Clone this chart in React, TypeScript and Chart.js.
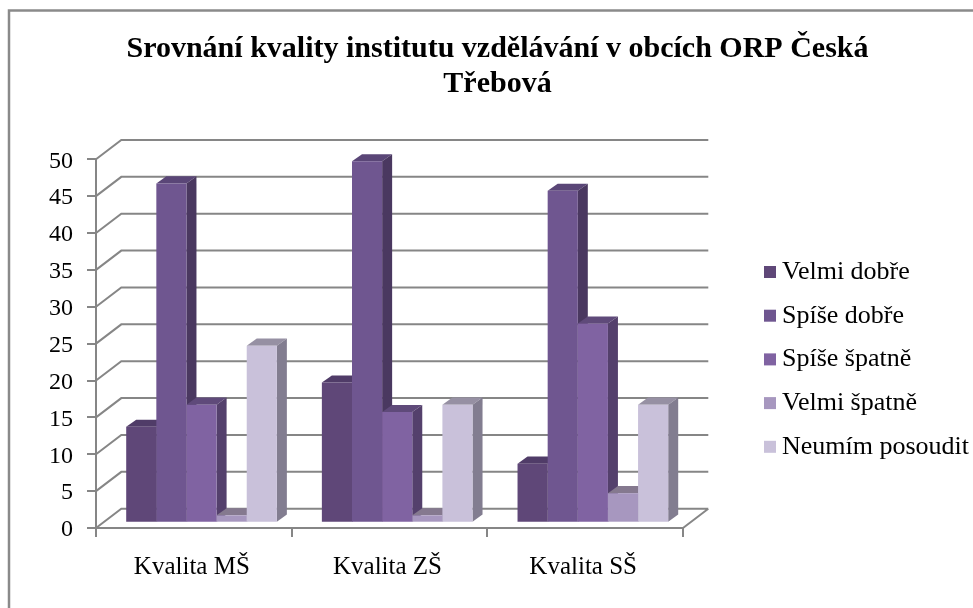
import React, { useEffect, useRef } from "react";
import { Chart, registerables } from "chart.js";

Chart.register(...registerables);

const titleLines = ["Srovnání kvality institutu vzdělávání v obcích ORP Česká", "Třebová"];
const categories = ["Kvalita MŠ", "Kvalita ZŠ", "Kvalita SŠ"];
const seriesNames = ["Velmi dobře", "Spíše dobře", "Spíše špatně", "Velmi špatně", "Neumím posoudit"];
const velmiDobre = [13, 19, 8];
const spiseDobre = [46, 49, 45];
const spiseSpatne = [16, 15, 27];
const velmiSpatne = [1, 1, 4];
const neumim = [24, 16, 16];
const frontColors = ["#5f4778", "#6f5690", "#8063a2", "#a797bf", "#c9c1da"];
const sideColors = ["#46345a", "#4a3860", "#54406c", "#7f7590", "#827d90"];
const topColors = ["#503c68", "#5a4677", "#5f4a7a", "#85798f", "#9690a3"];

const GRID = "#868686";
const WALL = { dx: 25.3, dy: 19.3 };
const BAR_OFFSET = { dx: 7.7, dy: 5.3 };
const BAR_DEPTH = { dx: 10, dy: 7.2 };
const LEGEND_FONT = 26;
const LEGEND_GAP = 17.7;
const LEGEND_BOX = 12;

const depth3d = {
  id: "depth3d",
  beforeDraw(chart: any) {
    const { ctx } = chart;
    ctx.save();
    ctx.strokeStyle = "#8a8a8a";
    ctx.lineWidth = 2.5;
    ctx.beginPath();
    ctx.moveTo(9, 608);
    ctx.lineTo(9, 10.5);
    ctx.lineTo(973, 10.5);
    ctx.stroke();
    ctx.restore();
  },
  beforeDatasetsDraw(chart: any) {
    const { ctx, scales, chartArea } = chart;
    const y = scales.y;
    ctx.save();
    ctx.strokeStyle = GRID;
    ctx.lineWidth = 2;
    ctx.beginPath();
    y.ticks.forEach((t: any) => {
      const py = y.getPixelForValue(t.value);
      ctx.moveTo(chartArea.left, py);
      ctx.lineTo(chartArea.left + WALL.dx, py - WALL.dy);
      ctx.lineTo(chartArea.right + WALL.dx, py - WALL.dy);
    });
    ctx.moveTo(chartArea.right, chartArea.bottom);
    ctx.lineTo(chartArea.right + WALL.dx, chartArea.bottom - WALL.dy);
    ctx.stroke();
    ctx.restore();

    ctx.save();
    ctx.translate(BAR_OFFSET.dx, -BAR_OFFSET.dy);
    chart.data.datasets.forEach((_: any, i: number) => {
      const meta = chart.getDatasetMeta(i);
      meta.data.forEach((bar: any) => {
        const p = bar.getProps(["x", "y", "base", "width"], false);
        const l = p.x - p.width / 2;
        const r = p.x + p.width / 2;
        ctx.fillStyle = topColors[i];
        ctx.beginPath();
        ctx.moveTo(l, p.y);
        ctx.lineTo(l + BAR_DEPTH.dx, p.y - BAR_DEPTH.dy);
        ctx.lineTo(r + BAR_DEPTH.dx, p.y - BAR_DEPTH.dy);
        ctx.lineTo(r, p.y);
        ctx.closePath();
        ctx.fill();
        ctx.fillStyle = sideColors[i];
        ctx.beginPath();
        ctx.moveTo(r, p.y);
        ctx.lineTo(r + BAR_DEPTH.dx, p.y - BAR_DEPTH.dy);
        ctx.lineTo(r + BAR_DEPTH.dx, p.base - BAR_DEPTH.dy);
        ctx.lineTo(r, p.base);
        ctx.closePath();
        ctx.fill();
      });
    });
  },
  afterDatasetsDraw(chart: any) {
    chart.ctx.restore();
  },
  afterDraw(chart: any) {
    const { ctx, legend } = chart;
    legend.legendItems.forEach((item: any, i: number) => {
      const cy = legend.top + LEGEND_GAP + LEGEND_FONT / 2 + i * (LEGEND_FONT + LEGEND_GAP);
      ctx.fillStyle = item.fillStyle;
      ctx.fillRect(legend.left + LEGEND_GAP + LEGEND_FONT / 2 - 18, cy - LEGEND_BOX / 2, LEGEND_BOX, LEGEND_BOX);
    });
  },
  afterLayout(chart: any) {
    const lg = chart.legend;
    lg.left = 782 - LEGEND_GAP - LEGEND_FONT / 2;
    lg.right = 973;
    lg.top = 241.3;
    lg.bottom = 608;
    const tt = chart.titleBlock;
    tt.left = 22;
    tt.right = 973;
  },
};

export default function App() {
  const ref = useRef<HTMLCanvasElement>(null);
  useEffect(() => {
    const family = "'Liberation Serif'";
    const series = [velmiDobre, spiseDobre, spiseSpatne, velmiSpatne, neumim];
    const chart = new Chart(ref.current!, {
      type: "bar",
      data: {
        labels: categories,
        datasets: seriesNames.map((name, i) => ({
          label: name,
          data: series[i],
          backgroundColor: frontColors[i],
          borderWidth: 0,
          categoryPercentage: 0.77,
          barPercentage: 1,
          clip: false,
        })),
      },
      plugins: [depth3d],
      options: {
        responsive: false,
        animation: false,
        layout: { padding: { left: 0, top: 0, right: 290, bottom: 0 } },
        plugins: {
          tooltip: { enabled: false },
          title: {
            display: true,
            text: titleLines,
            color: "#000",
            font: { family, size: 30, weight: "bold", lineHeight: 35 / 30 },
            padding: { top: 32, bottom: 57.3 },
          },
          legend: {
            display: true,
            position: "chartArea",
            align: "start",
            labels: { font: { family, size: LEGEND_FONT }, color: "#000", boxWidth: 0, boxHeight: 0, padding: LEGEND_GAP },
          },
        },
        scales: {
          x: {
            afterFit: (s: any) => { s.height = 80; },
            grid: { offset: true, drawOnChartArea: false, color: GRID, lineWidth: 2, tickLength: 9, tickColor: GRID },
            border: { color: GRID, width: 2 },
            ticks: { font: { family, size: 25 }, color: "#000", padding: 15, labelOffset: -2 },
          },
          y: {
            min: 0,
            max: 50,
            afterFit: (s: any) => { s.width = 96; },
            grid: { drawOnChartArea: false, color: GRID, lineWidth: 2, tickLength: 9, tickColor: GRID },
            border: { color: GRID, width: 2 },
            ticks: { font: { family, size: 24 }, color: "#000", stepSize: 5, padding: 14, labelOffset: 2 },
          },
        },
      } as any,
    });
    return () => chart.destroy();
  }, []);
  return (
    <div style={{ position: "absolute", left: 0, top: 0, width: 973, height: 608, background: "#fff" }}>
      <canvas ref={ref} width={973} height={608} style={{ display: "block", filter: "blur(0.5px)" }} />
    </div>
  );
}
